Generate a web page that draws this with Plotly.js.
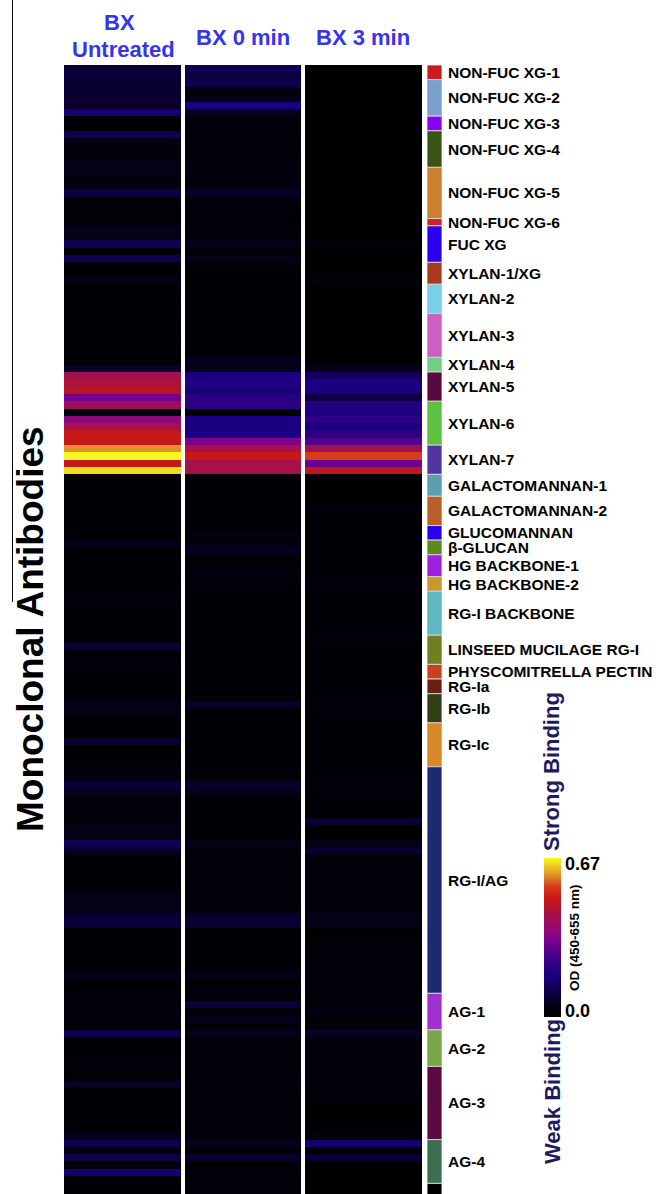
<!DOCTYPE html>
<html>
<head>
<meta charset="utf-8">
<script src="https://cdn.plot.ly/plotly-3.0.1.min.js"></script>
<style>html,body{margin:0;padding:0;background:#fff;overflow:hidden}</style>
</head>
<body>
<div id="chart" style="width:658px;height:1194px"></div>
<script>
// ---- data ----
const columnLabels = ["BX Untreated", "BX 0 min", "BX 3 min"];

const untreated = [
 0.09,0.09,0.08,0.08,0.08,0.08,0.15,0.02,0.02,0.12,
 0.04,0.04,0.04,0.05,0.05,0.04,0.04,0.10,0.03,0.03,
 0.02,0.03,0.06,0.05,0.12,0.02,0.11,0.02,0.02,0.05,
 0.02,0.02,0.01,0.02,0.02,0.01,0.01,0.02,0.01,0.01,
 0.01,0.07,0.42,0.45,0.47,0.31,0.40,0.02,0.35,0.43,
 0.50,0.50,0.60,0.67,0.50,0.65,0.02,0.02,0.02,0.02,
 0.02,0.02,0.02,0.02,0.02,0.05,0.02,0.02,0.02,0.02,
 0.02,0.02,0.02,0.03,0.02,0.02,0.02,0.02,0.02,0.08,
 0.02,0.03,0.02,0.02,0.02,0.02,0.02,0.05,0.05,0.02,
 0.02,0.02,0.08,0.02,0.02,0.02,0.04,0.04,0.09,0.06,
 0.03,0.03,0.03,0.03,0.05,0.05,0.12,0.07,0.02,0.02,
 0.02,0.02,0.02,0.05,0.05,0.05,0.09,0.09,0.02,0.02,
 0.02,0.02,0.02,0.02,0.05,0.02,0.02,0.02,0.03,0.03,
 0.03,0.02,0.11,0.02,0.02,0.02,0.03,0.02,0.02,0.07,
 0.02,0.02,0.02,0.02,0.02,0.02,0.05,0.11,0.03,0.11,
 0.02,0.15,0.02,0.02,0.02
];

const bx0min = [
 0.12,0.10,0.11,0.04,0.04,0.17,0.06,0.03,0.03,0.03,
 0.03,0.03,0.03,0.04,0.04,0.04,0.04,0.07,0.03,0.03,
 0.02,0.02,0.03,0.03,0.05,0.02,0.05,0.02,0.02,0.02,
 0.02,0.02,0.02,0.02,0.02,0.02,0.02,0.02,0.02,0.02,
 0.06,0.05,0.17,0.19,0.16,0.20,0.22,0.02,0.17,0.17,
 0.17,0.33,0.43,0.50,0.43,0.43,0.02,0.02,0.02,0.02,
 0.02,0.02,0.02,0.02,0.04,0.04,0.06,0.02,0.02,0.04,
 0.03,0.02,0.02,0.02,0.02,0.02,0.02,0.02,0.02,0.02,
 0.02,0.02,0.02,0.02,0.02,0.02,0.02,0.07,0.02,0.02,
 0.02,0.02,0.02,0.02,0.02,0.02,0.03,0.03,0.07,0.05,
 0.02,0.02,0.02,0.02,0.02,0.02,0.05,0.03,0.03,0.03,
 0.03,0.03,0.03,0.03,0.03,0.03,0.08,0.08,0.02,0.02,
 0.02,0.02,0.02,0.02,0.05,0.02,0.04,0.02,0.09,0.02,
 0.05,0.03,0.06,0.03,0.03,0.03,0.03,0.03,0.03,0.04,
 0.03,0.03,0.03,0.03,0.03,0.03,0.03,0.06,0.02,0.08,
 0.03,0.03,0.03,0.03,0.03
];

const bx3min = [
 0.01,0.01,0.01,0.01,0.01,0.01,0.01,0.01,0.01,0.01,
 0.01,0.01,0.01,0.01,0.01,0.01,0.01,0.01,0.01,0.01,
 0.01,0.01,0.01,0.01,0.03,0.01,0.01,0.01,0.01,0.03,
 0.01,0.01,0.01,0.01,0.01,0.01,0.01,0.01,0.01,0.01,
 0.01,0.05,0.13,0.17,0.17,0.10,0.19,0.17,0.22,0.17,
 0.22,0.27,0.42,0.55,0.30,0.48,0.01,0.01,0.01,0.01,
 0.03,0.02,0.02,0.02,0.02,0.02,0.02,0.02,0.02,0.02,
 0.03,0.03,0.02,0.02,0.02,0.02,0.02,0.02,0.03,0.02,
 0.02,0.02,0.02,0.02,0.02,0.02,0.02,0.03,0.02,0.02,
 0.02,0.02,0.02,0.02,0.02,0.02,0.02,0.02,0.03,0.02,
 0.02,0.02,0.02,0.08,0.01,0.01,0.05,0.08,0.03,0.03,
 0.03,0.03,0.03,0.03,0.03,0.03,0.05,0.05,0.01,0.01,
 0.03,0.03,0.03,0.03,0.03,0.03,0.03,0.03,0.03,0.04,
 0.02,0.03,0.07,0.03,0.03,0.03,0.03,0.03,0.03,0.03,
 0.03,0.03,0.01,0.01,0.01,0.01,0.03,0.15,0.02,0.09,
 0.01,0.01,0.01,0.01,0.01
];

const groupNames = [
 "NON-FUC XG-1","NON-FUC XG-2","NON-FUC XG-3","NON-FUC XG-4","NON-FUC XG-5","NON-FUC XG-6",
 "FUC XG","XYLAN-1/XG","XYLAN-2","XYLAN-3","XYLAN-4","XYLAN-5","XYLAN-6","XYLAN-7",
 "GALACTOMANNAN-1","GALACTOMANNAN-2","GLUCOMANNAN","β-GLUCAN","HG BACKBONE-1","HG BACKBONE-2",
 "RG-I BACKBONE","LINSEED MUCILAGE RG-I","PHYSCOMITRELLA PECTIN","RG-Ia","RG-Ib","RG-Ic",
 "RG-I/AG","AG-1","AG-2","AG-3","AG-4",""
];
const groupCounts = [2,5,2,5,7,1,5,3,4,6,2,4,6,4,3,4,2,2,3,2,6,4,2,2,4,6,31,5,5,10,6,2];
const groupColors = [
 "#cc1a1e","#7aa0cc","#8a00f0","#3a5418","#cc8030","#d42020",
 "#2a00f0","#a83a20","#78d0e8","#cc60c0","#70d088","#580a40","#60c040","#5034a0",
 "#5aa0b0","#b86028","#2a00f0","#5a8a20","#a020e0","#c89830",
 "#60b8c0","#708020","#c84020","#6a2010","#304018","#d88a28",
 "#202870","#a030d0","#78a848","#5a0a40","#3a7050","#000000"
];

// ---- build ----
const rowIdx = untreated.map((_, i) => i);
const z = rowIdx.map(i => [untreated[i], bx0min[i], bx3min[i]]);

const starts = [];
let acc = 0;
groupCounts.forEach(c => { starts.push(acc); acc += c; });

const W = 658, H = 1194;
const FONT = "Liberation Sans, Arial, Helvetica, sans-serif";
const px = v => v / W;
const py = v => 1 - v / H;

const colorscale = [
 [0, "#000000"], [0.06, "#04000e"], [0.134, "#0a0038"], [0.254, "#1a0080"],
 [0.33, "#2e0084"], [0.46, "#700090"], [0.52, "#8a0880"], [0.63, "#a21050"],
 [0.70, "#b81428"], [0.75, "#c81818"], [0.82, "#d83a18"], [0.90, "#e09828"],
 [1, "#f8f820"]
];

const heat = {
  type: "heatmap",
  z: z, x: [0, 1, 2], y: rowIdx,
  xgap: 4,
  zmin: 0, zmax: 0.67,
  colorscale: colorscale,
  hoverinfo: "skip",
  colorbar: {
    x: px(544), xanchor: "left", xpad: 0,
    y: (H - 1017) / H, yanchor: "bottom", ypad: 0,
    len: 159, lenmode: "pixels",
    thickness: 17, thicknessmode: "pixels",
    outlinewidth: 0,
    tickmode: "array", tickvals: [0.027, 0.645], ticktext: ["0.0", "0.67"],
    ticks: "", ticklen: 0,
    tickfont: { family: FONT, size: 18, color: "#000", weight: "bold" }
  }
};

const strip = {
  type: "bar",
  x: groupCounts.map(() => 0),
  y: groupCounts,
  base: starts.map(s => s - 0.5),
  width: 1,
  xaxis: "x2", yaxis: "y",
  marker: { color: groupColors, line: { color: "#d0d0d0", width: 1 } },
  hoverinfo: "skip"
};

const annotations = [];
const titleFont = { family: FONT, size: 22, color: "#3535ea", weight: "bold" };
annotations.push({ text: "BX", x: px(119), y: py(22), xref: "paper", yref: "paper", showarrow: false, xanchor: "center", yanchor: "middle", font: titleFont });
annotations.push({ text: "Untreated", x: px(123), y: py(50), xref: "paper", yref: "paper", showarrow: false, xanchor: "center", yanchor: "middle", font: titleFont });
annotations.push({ text: columnLabels[1], x: px(243), y: py(38), xref: "paper", yref: "paper", showarrow: false, xanchor: "center", yanchor: "middle", font: titleFont });
annotations.push({ text: columnLabels[2], x: px(363), y: py(38), xref: "paper", yref: "paper", showarrow: false, xanchor: "center", yanchor: "middle", font: titleFont });

annotations.push({ text: "Monoclonal Antibodies", x: px(30), y: py(629), xref: "paper", yref: "paper", showarrow: false, textangle: -90, xanchor: "center", yanchor: "middle", font: { family: FONT, size: 37, color: "#000", weight: "bold" } });

const bindFont = { family: FONT, size: 22, color: "#1c1c5e", weight: "bold" };
annotations.push({ text: "Strong Binding", x: px(551), y: py(772), xref: "paper", yref: "paper", showarrow: false, textangle: -90, xanchor: "center", yanchor: "middle", font: bindFont });
annotations.push({ text: "Weak Binding", x: px(552), y: py(1092), xref: "paper", yref: "paper", showarrow: false, textangle: -90, xanchor: "center", yanchor: "middle", font: bindFont });
annotations.push({ text: "OD (450-655 nm)", x: px(574), y: py(938), xref: "paper", yref: "paper", showarrow: false, textangle: -90, xanchor: "center", yanchor: "middle", font: { family: FONT, size: 13.5, color: "#000", weight: "bold" } });

groupNames.forEach((name, k) => {
  if (!name) return;
  annotations.push({
    text: name, xref: "paper", yref: "y",
    x: px(446), y: starts[k] + groupCounts[k] / 2 - 0.5,
    xanchor: "left", yanchor: "middle", showarrow: false,
    font: { family: FONT, size: 15.5, color: "#000", weight: "bold" }
  });
});

const layout = {
  width: W, height: H,
  margin: { l: 0, r: 0, t: 0, b: 0 },
  paper_bgcolor: "#ffffff", plot_bgcolor: "#ffffff",
  showlegend: false,
  barmode: "overlay", bargap: 0,
  xaxis: { domain: [px(62), px(424)], range: [-0.5, 2.5], visible: false, fixedrange: true },
  xaxis2: { domain: [px(427), px(442)], range: [-0.5, 0.5], visible: false, anchor: "y" },
  yaxis: { domain: [0, 1 - 65 / H], range: [153.95, -0.5], visible: false },
  annotations: annotations,
  shapes: [
    { type: "line", xref: "paper", yref: "paper", x0: px(12.5), x1: px(12.5), y0: 1, y1: py(602), line: { color: "#000", width: 1 } }
  ]
};

Plotly.newPlot("chart", [heat, strip], layout, { displayModeBar: false, staticPlot: true });
</script>
</body>
</html>
